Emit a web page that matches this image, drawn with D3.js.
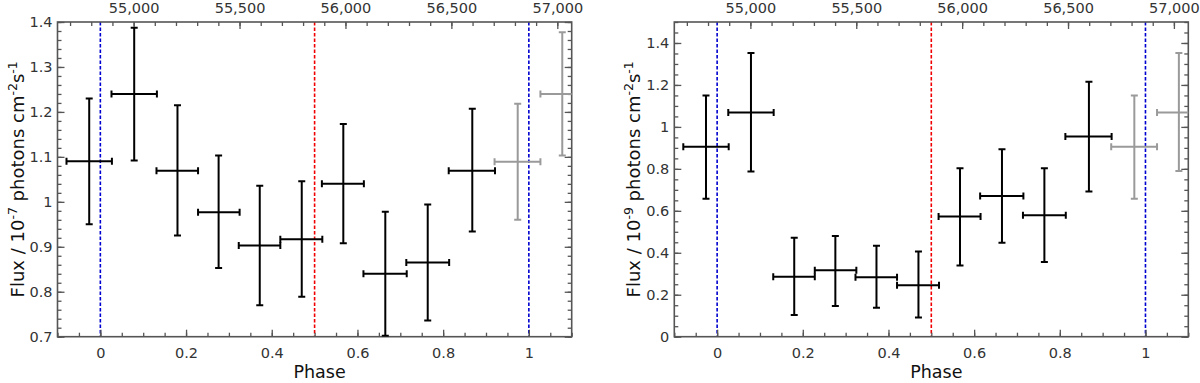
<!DOCTYPE html>
<html><head><meta charset="utf-8">
<script src="https://cdn.jsdelivr.net/npm/d3@7"></script>
<style>
html,body{margin:0;padding:0;background:#fff;}
svg{display:block;font-family:"DejaVu Sans",sans-serif;}
</style></head>
<body><svg id="chart" width="1200" height="383"></svg>
<script>
// ---- data ----
const binCenter = [-0.026, 0.079, 0.180, 0.276, 0.372, 0.470, 0.567, 0.665, 0.764, 0.868];
const binLow    = [-0.079, 0.026, 0.131, 0.228, 0.323, 0.420, 0.517, 0.614, 0.714, 0.813];
const binHigh   = [ 0.027, 0.132, 0.228, 0.325, 0.420, 0.518, 0.615, 0.715, 0.814, 0.921];

const gammaFlux = [1.090, 1.240, 1.069, 0.977, 0.903, 0.917, 1.040, 0.840, 0.865, 1.069];
const gammaLow  = [0.950, 1.092, 0.925, 0.853, 0.770, 0.789, 0.908, 0.702, 0.736, 0.934];
const gammaHigh = [1.230, 1.387, 1.215, 1.103, 1.036, 1.046, 1.173, 0.978, 0.994, 1.207];

const hardFlux = [0.905, 1.069, 0.286, 0.317, 0.283, 0.245, 0.573, 0.671, 0.579, 0.954];
const hardLow  = [0.657, 0.787, 0.104, 0.146, 0.138, 0.091, 0.339, 0.448, 0.356, 0.692];
const hardHigh = [1.150, 1.352, 0.472, 0.480, 0.433, 0.406, 0.803, 0.894, 0.803, 1.215];

// repeated (next-cycle) points, drawn in grey
const repCenter = [0.974, 1.078];
const repLow    = [0.920, 1.027];
const repHigh   = [1.027, 1.133];
const gammaRepFlux = [1.089, 1.240];
const gammaRepLow  = [0.960, 1.103];
const gammaRepHigh = [1.218, 1.377];
const hardRepFlux  = [0.905, 1.069];
const hardRepLow   = [0.657, 0.790];
const hardRepHigh  = [1.150, 1.352];

const phaseTicks = [0, 0.2, 0.4, 0.6, 0.8, 1];
const mjdTicks = [55000, 55500, 56000, 56500, 57000];
const markerPhases = [0, 0.5, 1];
const markerColors = ["#0000d0", "#f00000", "#0000d0"];

const leftYTicks  = [0.7, 0.8, 0.9, 1.0, 1.1, 1.2, 1.3, 1.4];
const rightYTicks = [0, 0.2, 0.4, 0.6, 0.8, 1.0, 1.2, 1.4];

// ephemeris for top axis
const T0 = 54843, PERIOD = 2022.7;

const svg = d3.select("#chart");
const plotTop = 22, plotBottom = 336.7;

function fmtNum(d){ return String(+d.toFixed(3)); }

function panel(opts){
  const x = d3.scaleLinear().domain([-0.1, 1.1]).range([opts.left, opts.right]);
  const xm = d3.scaleLinear().domain([T0 - 0.1*PERIOD, T0 + 1.1*PERIOD]).range([opts.left, opts.right]);
  const y = d3.scaleLinear().domain(opts.yDomain).range([plotBottom, plotTop]);
  const g = svg.append("g");
  const id = "clip" + opts.id;
  svg.append("clipPath").attr("id", id).append("rect")
    .attr("x", opts.left).attr("y", plotTop).attr("width", opts.right - opts.left).attr("height", plotBottom - plotTop);

  // marker lines
  g.append("g").selectAll("line").data(markerPhases).join("line")
    .attr("x1", d => x(d)).attr("x2", d => x(d))
    .attr("y1", plotTop).attr("y2", plotBottom)
    .attr("stroke", (d,i) => markerColors[i]).attr("stroke-width", 1.6).attr("stroke-dasharray", "3.5,2");

  const styleAxis = (sel, labels) => {
    sel.select(".domain").remove();
    sel.selectAll(".tick line").attr("stroke", "#555").attr("stroke-width", 1.3);
    sel.selectAll(".tick text").attr("fill", "#333").style("font-size", "14.5px").style("font-family", "DejaVu Sans");
    if (!labels) sel.selectAll(".tick text").remove();
  };
  const minorRange = (a, b, s) => d3.range(Math.round(a/s), Math.round(b/s) + 1).map(k => +(k*s).toFixed(6));

  // bottom axis
  g.append("g").attr("transform", `translate(0,${plotBottom})`)
    .call(d3.axisBottom(x).tickValues(minorRange(-0.1, 1.1, 0.05)).tickSize(-4).tickFormat(""))
    .call(s => styleAxis(s, false));
  g.append("g").attr("transform", `translate(0,${plotBottom})`)
    .call(d3.axisBottom(x).tickValues(phaseTicks).tickSizeInner(-7).tickPadding(11).tickFormat(fmtNum))
    .call(s => styleAxis(s, true));
  // top axis (MJD)
  g.append("g").attr("transform", `translate(0,${plotTop})`)
    .call(d3.axisTop(xm).tickValues(d3.range(54700, 57100, 100)).tickSize(-4).tickFormat(""))
    .call(s => styleAxis(s, false));
  g.append("g").attr("transform", `translate(0,${plotTop})`)
    .call(d3.axisTop(xm).tickValues(mjdTicks).tickSizeInner(-7).tickPadding(9).tickFormat(d3.format(",")))
    .call(s => styleAxis(s, true));
  // left axis
  g.append("g").attr("transform", `translate(${opts.left},0)`)
    .call(d3.axisLeft(y).tickValues(minorRange(opts.yDomain[0], opts.yDomain[1], opts.minor)).tickSize(-4).tickFormat(""))
    .call(s => styleAxis(s, false));
  g.append("g").attr("transform", `translate(${opts.left},0)`)
    .call(d3.axisLeft(y).tickValues(opts.yTicks).tickSizeInner(-7).tickPadding(5).tickFormat(fmtNum))
    .call(s => styleAxis(s, true));
  // right axis
  g.append("g").attr("transform", `translate(${opts.right},0)`)
    .call(d3.axisRight(y).tickValues(minorRange(opts.yDomain[0], opts.yDomain[1], opts.minor)).tickSize(-4).tickFormat(""))
    .call(s => styleAxis(s, false));
  g.append("g").attr("transform", `translate(${opts.right},0)`)
    .call(d3.axisRight(y).tickValues(opts.yTicks).tickSize(-7).tickFormat(""))
    .call(s => styleAxis(s, false));

  // frame
  g.append("rect").attr("x", opts.left).attr("y", plotTop)
    .attr("width", opts.right - opts.left).attr("height", plotBottom - plotTop)
    .attr("fill", "none").attr("stroke", "#555").attr("stroke-width", 1.6);

  // error bars
  const drawSet = (cx, lo, hi, fv, fl, fh, color) => {
    const pts = cx.map((c, i) => ({c, lo: lo[i], hi: hi[i], f: fv[i], fl: fl[i], fh: fh[i]}));
    const eg = g.append("g").attr("clip-path", `url(#${id})`)
      .attr("stroke", color).attr("stroke-width", 2).attr("fill", "none");
    const cap = 3.5;
    const grp = eg.selectAll("g").data(pts).join("g");
    grp.append("line").attr("x1", d => x(d.c)).attr("x2", d => x(d.c)).attr("y1", d => y(d.fl)).attr("y2", d => y(d.fh));
    grp.append("line").attr("x1", d => x(d.lo)).attr("x2", d => x(d.hi)).attr("y1", d => y(d.f)).attr("y2", d => y(d.f));
    grp.append("line").attr("x1", d => x(d.c) - cap).attr("x2", d => x(d.c) + cap).attr("y1", d => y(d.fl)).attr("y2", d => y(d.fl));
    grp.append("line").attr("x1", d => x(d.c) - cap).attr("x2", d => x(d.c) + cap).attr("y1", d => y(d.fh)).attr("y2", d => y(d.fh));
    grp.append("line").attr("x1", d => x(d.lo)).attr("x2", d => x(d.lo)).attr("y1", d => y(d.f) - cap).attr("y2", d => y(d.f) + cap);
    grp.append("line").attr("x1", d => x(d.hi)).attr("x2", d => x(d.hi)).attr("y1", d => y(d.f) - cap).attr("y2", d => y(d.f) + cap);
  };
  drawSet(repCenter, repLow, repHigh, opts.repF, opts.repL, opts.repH, "#9a9a9a");
  drawSet(binCenter, binLow, binHigh, opts.f, opts.fl, opts.fh, "#000");

  // axis labels
  svg.append("text").attr("x", (opts.left + opts.right)/2 + 5).attr("y", 378)
    .attr("text-anchor", "middle").attr("fill", "#111").style("font-size", "17.5px").text("Phase");
  const yl = svg.append("text")
    .attr("transform", `translate(${opts.left - 34},${(plotTop + plotBottom)/2}) rotate(-90)`)
    .attr("text-anchor", "middle").attr("fill", "#111").style("font-size", "18px");
  yl.append("tspan").text("Flux / 10");
  yl.append("tspan").attr("dy", -7).style("font-size", "12.5px").text(opts.exp);
  yl.append("tspan").attr("dy", 7).text(" photons cm");
  yl.append("tspan").attr("dy", -7).style("font-size", "12.5px").text("-2");
  yl.append("tspan").attr("dy", 7).text("s");
  yl.append("tspan").attr("dy", -7).style("font-size", "12.5px").text("-1");
}

panel({id: "L", left: 57.5, right: 571.7, yDomain: [0.7, 1.4], yTicks: leftYTicks, minor: 0.02, exp: "-7",
  f: gammaFlux, fl: gammaLow, fh: gammaHigh, repF: gammaRepFlux, repL: gammaRepLow, repH: gammaRepHigh});
panel({id: "R", left: 674.3, right: 1188.3, yDomain: [0, 1.5], yTicks: rightYTicks, minor: 0.05, exp: "-9",
  f: hardFlux, fl: hardLow, fh: hardHigh, repF: hardRepFlux, repL: hardRepLow, repH: hardRepHigh});
</script>
</body></html>
